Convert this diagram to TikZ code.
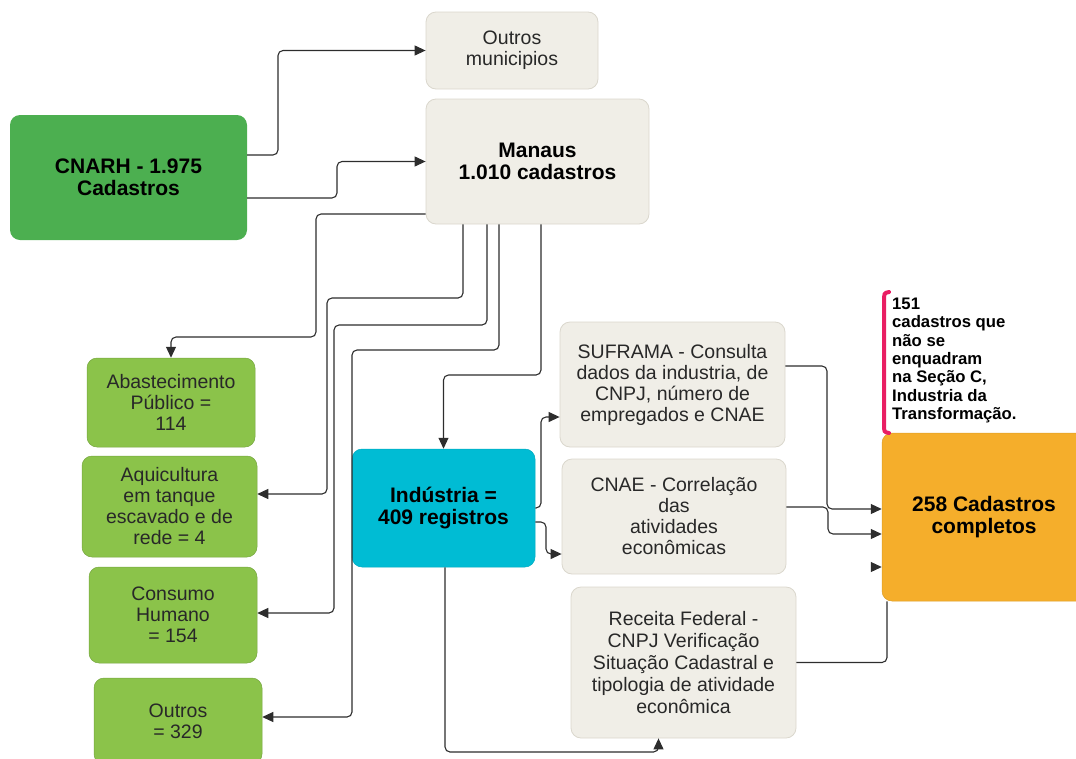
\documentclass[tikz,border=0pt]{standalone}
\usepackage{fontspec}
\setmainfont{Liberation Sans}
\usepackage{tikz}
\usetikzlibrary{arrows.meta}
\definecolor{cnarhgreen}{RGB}{76,175,80}
\definecolor{usegreen}{RGB}{139,195,74}
\definecolor{indcyan}{RGB}{0,188,212}
\definecolor{resorange}{RGB}{245,174,43}
\definecolor{beige}{RGB}{240,238,231}
\definecolor{beigeline}{RGB}{218,215,205}
\definecolor{wire}{RGB}{45,45,45}
\definecolor{txt}{RGB}{40,40,40}
\definecolor{brkpink}{RGB}{233,30,99}

\begin{document}
\begin{tikzpicture}[x=1pt,y=-1pt]
\tikzstyle{box}=[rectangle,rounded corners=10pt,inner sep=0pt,align=center,text=txt,font=\fontsize{19.5}{21}\selectfont]
\tikzstyle{gray box}=[box,fill=beige,draw=beigeline,line width=0.8pt]
\tikzstyle{use box}=[box,fill=usegreen,draw=usegreen!85!black,line width=0.5pt]
\tikzstyle{bold box}=[box,text=black,font=\fontsize{21}{22}\selectfont\bfseries]
\tikzstyle{conn}=[draw=wire,line width=1.1pt,rounded corners=5pt]
\tikzstyle{arr}=[conn,-{Triangle[width=10pt,length=11pt]}]
\useasboundingbox (0,0) rectangle (1076,758);

% caixas
\node[bold box,fill=cnarhgreen,minimum width=237pt,minimum height=125pt] (cnarh) at (128.5,177.5) {CNARH - 1.975\\Cadastros};
\node[gray box,minimum width=172pt,minimum height=77pt] (outm) at (512,50.5) {Outros\\municipios};
\node[bold box,fill=beige,draw=beigeline,line width=0.8pt,minimum width=223pt,minimum height=125pt] (manaus) at (537.5,161.5) {Manaus\\1.010 cadastros};
\node[use box,minimum width=168pt,minimum height=89pt] (abast) at (171,402.5) {Abastecimento\\Público =\\114};
\node[use box,minimum width=175pt,minimum height=101pt] (aqui) at (169.5,506.5) {Aquicultura\\em tanque\\escavado e de\\rede = 4};
\node[use box,minimum width=168pt,minimum height=96pt] (cons) at (173,615) {Consumo\\Humano\\= 154};
\node[use box,minimum width=168pt,minimum height=86pt] (outr) at (178,721) {Outros\\= 329};
\node[bold box,fill=indcyan,draw=indcyan!90!black,line width=0.5pt,minimum width=183pt,minimum height=118pt] (ind) at (443.5,508) {Indústria =\\409 registros};
\node[gray box,minimum width=225pt,minimum height=125pt] (sufr) at (672.5,384.5) {SUFRAMA - Consulta\\dados da industria, de\\CNPJ, número de\\empregados e CNAE};
\node[gray box,minimum width=224pt,minimum height=115pt] (cnae) at (674,516.5) {CNAE - Correlação\\das\\atividades\\econômicas};
\node[gray box,minimum width=225pt,minimum height=151pt,font=\fontsize{19.5}{22}\selectfont] (rec) at (683.5,662.5) {Receita Federal -\\CNPJ Verificação\\Situação Cadastral e\\tipologia de atividade\\econômica};
\node[bold box,fill=resorange,draw=resorange!90!black,line width=0.5pt,minimum width=204pt,minimum height=168pt] (res) at (984,517) {258 Cadastros\\completos};
\node[anchor=north west,inner sep=0pt,align=left,font=\fontsize{16.7}{18.3}\selectfont\bfseries] (nota) at (892,298) {151\\cadastros que\\não se\\enquadram\\na Seção C,\\Industria da\\Transformação.};
\coordinate (stub) at (871,567);

% ligacoes
\draw[arr] (cnarh.east |- 0,155) -- (278,155) |- (outm.west);
\draw[arr] (cnarh.east |- 0,198) -- (337,198) |- (manaus.west);
\draw[arr] (manaus.west |- 0,214) -- (316,214) -- (316,337) -| (abast.north);
\draw[arr] (manaus.south -| 463,0) -- (463,298) -- (327,298) |- (aqui.east |- 0,494);
\draw[arr] (manaus.south -| 487,0) -- (487,325) -- (334,325) |- (cons.east |- 0,613);
\draw[arr] (manaus.south -| 499,0) -- (499,350) -- (352,350) |- (outr.east |- 0,717);
\draw[arr] (manaus.south -| 541,0) -- (541,375) -| (ind.north);
\draw[arr] (ind.east |- 0,508) -- (541,508) |- (sufr.west |- 0,417);
\draw[arr] (ind.east |- 0,522) -- (546,522) |- (cnae.west |- 0,554);
\draw[arr] (ind.south -| 445,0) -- (445,752) -| ([xshift=-25pt]rec.south);
\draw[arr] (sufr.east |- 0,366) -- (827,366) |- (res.west |- 0,509);
\draw[arr] (cnae.east |- 0,507) -- (828,507) |- (res.west |- 0,534);
\draw[conn] (rec.east) -| (res.south -| 887,0);
\draw[arr] (stub) -- (res.west |- stub);
\draw[brkpink,line width=4pt,line cap=round] (889,292) .. controls (884,293) .. (884,302) -- (884,424) .. controls (884,432) .. (889,433);
\end{tikzpicture}
\end{document}
